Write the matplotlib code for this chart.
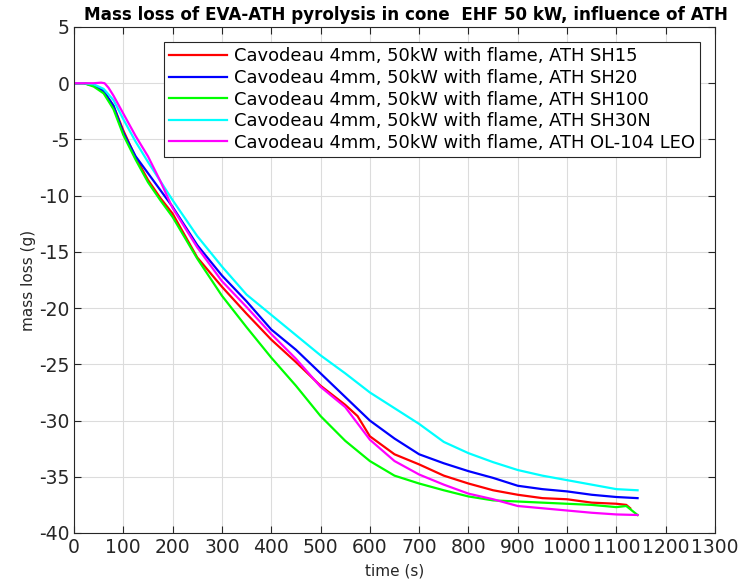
import matplotlib
matplotlib.use("Agg")
import matplotlib.pyplot as plt

plt.rcParams["axes.unicode_minus"] = False

# ---- data ----
t_red = [0, 20, 40, 60, 80, 100, 125, 150, 175, 200, 250, 300, 350, 400, 450, 500, 550, 575, 600, 650, 700, 750, 800, 850, 900, 950, 1000, 1050, 1100, 1120, 1128]
m_red = [0, 0, -0.2, -0.7, -2.0, -4.2, -6.6, -8.6, -10.2, -11.6, -15.5, -18.1, -20.5, -22.8, -24.8, -26.9, -28.6, -29.6, -31.4, -33.0, -33.9, -34.9, -35.6, -36.2, -36.6, -36.9, -37.0, -37.3, -37.4, -37.5, -37.8]

t_blue = [0, 20, 40, 60, 80, 100, 125, 150, 175, 200, 250, 300, 350, 400, 450, 500, 550, 600, 650, 700, 750, 800, 850, 900, 950, 1000, 1050, 1100, 1143]
m_blue = [0, 0, -0.2, -0.7, -2.0, -4.4, -6.5, -8.0, -9.5, -11.0, -14.4, -17.1, -19.4, -21.9, -23.7, -25.8, -27.9, -30.0, -31.6, -33.0, -33.8, -34.5, -35.1, -35.8, -36.1, -36.3, -36.6, -36.8, -36.9]

t_green = [0, 20, 40, 60, 80, 100, 125, 150, 175, 200, 250, 300, 350, 400, 450, 500, 550, 600, 650, 700, 750, 800, 850, 900, 950, 1000, 1050, 1100, 1120, 1143]
m_green = [0, 0, -0.3, -0.9, -2.3, -4.6, -6.8, -8.8, -10.4, -11.9, -15.6, -18.9, -21.7, -24.4, -26.9, -29.6, -31.8, -33.6, -34.9, -35.6, -36.2, -36.75, -37.1, -37.2, -37.3, -37.4, -37.5, -37.7, -37.6, -38.4]

t_cyan = [0, 20, 40, 60, 80, 100, 125, 150, 175, 200, 250, 300, 350, 400, 450, 500, 550, 600, 650, 700, 750, 800, 850, 900, 950, 1000, 1050, 1100, 1143]
m_cyan = [0, 0, -0.1, -0.5, -1.5, -3.2, -5.2, -7.0, -8.7, -10.4, -13.6, -16.3, -18.8, -20.6, -22.4, -24.2, -25.8, -27.5, -28.9, -30.3, -31.9, -32.9, -33.7, -34.4, -34.9, -35.3, -35.7, -36.1, -36.2]

t_mag = [0, 20, 40, 55, 62, 70, 80, 100, 125, 150, 175, 200, 250, 300, 350, 400, 450, 500, 550, 600, 650, 700, 750, 800, 850, 900, 950, 1000, 1050, 1100, 1143]
m_mag = [0, 0, 0, 0.05, 0, -0.4, -1.1, -2.7, -4.7, -6.5, -8.7, -11.1, -14.6, -17.6, -19.9, -22.3, -24.5, -27.0, -28.8, -31.7, -33.6, -34.8, -35.7, -36.5, -37.0, -37.6, -37.8, -38.0, -38.2, -38.35, -38.4]

labels = [
    "Cavodeau 4mm, 50kW with flame, ATH SH15",
    "Cavodeau 4mm, 50kW with flame, ATH SH20",
    "Cavodeau 4mm, 50kW with flame, ATH SH100",
    "Cavodeau 4mm, 50kW with flame, ATH SH30N",
    "Cavodeau 4mm, 50kW with flame, ATH OL-104 LEO",
]
colors = ["#ff0000", "#0000ff", "#00ff00", "#00ffff", "#ff00ff"]
xticks = list(range(0, 1301, 100))
yticks = list(range(-40, 6, 5))

series = [(t_red, m_red), (t_blue, m_blue), (t_green, m_green), (t_cyan, m_cyan), (t_mag, m_mag)]

fig = plt.figure(figsize=(7.42, 5.84), dpi=100)
ax = fig.add_axes([74 / 742, 1 - 533 / 584, (715 - 74) / 742, (533 - 27) / 584])

for (t, m), c, lab in zip(series, colors, labels):
    ax.plot(t, m, color=c, lw=1.6, label=lab)

ax.set_xlim(0, 1300)
ax.set_ylim(-40, 5)
ax.set_xticks(xticks)
ax.set_yticks(yticks)
ax.grid(True, color="#dcdcdc", lw=0.8)
ax.set_axisbelow(True)
ax.tick_params(direction="in", top=True, right=True, labelsize=13.5, colors="#262626", length=5)
for s in ax.spines.values():
    s.set_color("#262626")
    s.set_linewidth(0.8)

ax.set_xlabel("time (s)", fontsize=11, color="#262626", labelpad=5)
ax.set_ylabel("mass loss (g)", fontsize=11, color="#262626", labelpad=2)
fig.text(406 / 742, 1 - 15 / 584, "Mass loss of EVA-ATH pyrolysis in cone  EHF 50 kW, influence of ATH",
         ha="center", va="center", fontsize=12.1, fontweight="bold")

leg = ax.legend(loc="upper left", bbox_to_anchor=(164 / 742, 1 - 42 / 584),
                bbox_transform=fig.transFigure, fontsize=12.9, frameon=True,
                fancybox=False, framealpha=1, edgecolor="#262626", borderaxespad=0,
                handlelength=3.2, labelspacing=0.2, borderpad=0.3, handletextpad=0.4)
leg.get_frame().set_linewidth(0.8)

fig.savefig("out.png", dpi=100)
